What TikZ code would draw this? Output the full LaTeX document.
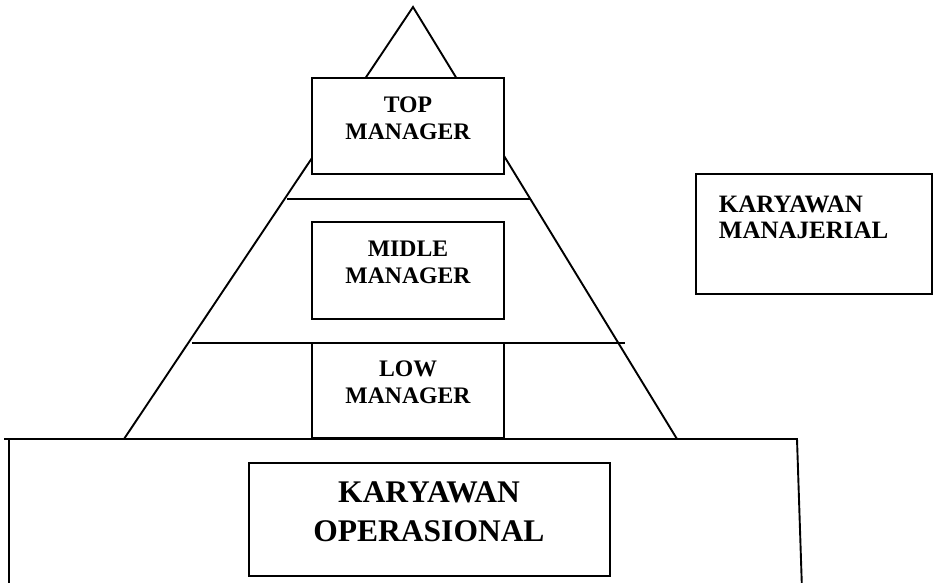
\documentclass[tikz,border=0pt]{standalone}
\usepackage{fontspec}
\setmainfont{Liberation Serif}
\begin{document}
\begin{tikzpicture}[x=1pt,y=-1pt,line width=1.9pt,
  box/.style={draw, fill=white, rectangle, inner sep=0pt, outer sep=0pt},
  lbl/.style={font=\bfseries\fontsize{23.7}{27}\selectfont, align=center, anchor=base, inner sep=0pt},
  biglbl/.style={font=\bfseries\fontsize{31.5}{39}\selectfont, align=center, anchor=base, inner sep=0pt},
  sidelbl/.style={font=\bfseries\fontsize{25}{26}\selectfont, align=left, anchor=base west, inner sep=0pt}]
\useasboundingbox (0,0) rectangle (940,582);
% pyramid outline
\coordinate (apex) at (413,7);
\coordinate (bl) at (124,439);
\coordinate (br) at (677,439);
\draw (bl) -- (apex) -- (br);
\coordinate (l1a) at (287,199);
\coordinate (l1b) at (530,199);
\draw (l1a) -- (l1b);
\coordinate (l2a) at (192,343);
\coordinate (l2b) at (625,343);
\draw (l2a) -- (l2b);
% base block
\coordinate (b1) at (4,439);
\coordinate (b2) at (797,439);
\coordinate (b3) at (802,590);
\coordinate (b4) at (9,439);
\coordinate (b5) at (9,590);
\draw (b1) -- (b2) -- (b3);
\draw (b4) -- (b5);
% boxes
\node[box, minimum width=192pt, minimum height=96pt] (top) at (408,126) {};
\node[box, minimum width=192pt, minimum height=97pt] (mid) at (408,270.5) {};
\node[box, minimum width=192pt, minimum height=95pt] (low) at (408,390.5) {};
\node[box, minimum width=361pt, minimum height=113pt] (ops) at (429.5,519.5) {};
\node[box, minimum width=236pt, minimum height=120pt] (mgr) at (814,234) {};
% labels
\node[lbl] (toplbl) at (408,139) {TOP\\MANAGER};
\node[lbl] (midlbl) at (408,283) {MIDLE\\MANAGER};
\node[lbl] (lowlbl) at (408,403) {LOW\\MANAGER};
\node[biglbl] (opslbl) at (429,541) {KARYAWAN\\OPERASIONAL};
\node[sidelbl] (mgrlbl) at (718,238) {KARYAWAN\\MANAJERIAL};
\end{tikzpicture}
\end{document}
